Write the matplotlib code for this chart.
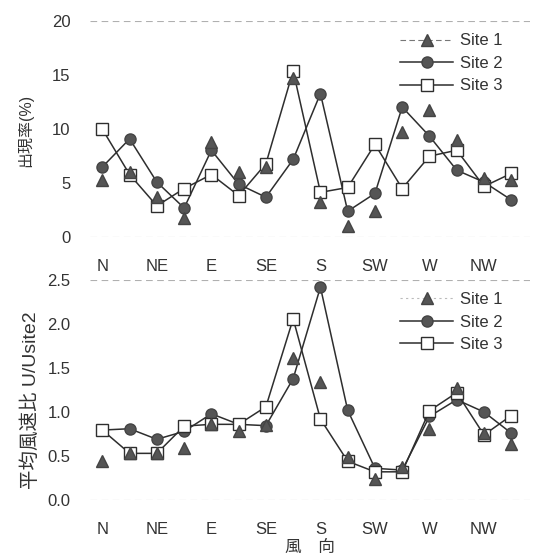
import matplotlib
matplotlib.use("Agg")
import matplotlib.pyplot as plt
from matplotlib.lines import Line2D

plt.rcParams['font.family'] = ['Liberation Sans', 'Noto Sans CJK JP', 'DejaVu Sans']

directions = ["N", "NNE", "NE", "ENE", "E", "ESE", "SE", "SSE",
              "S", "SSW", "SW", "WSW", "W", "WNW", "NW", "NNW"]
tick_labels = ["N", "NE", "E", "SE", "S", "SW", "W", "NW"]

# 出現率 (%)
freq_site1 = [5.3, 6.0, 3.75, 1.75, 8.8, 6.0, 6.5, 14.7, 3.3, 1.0, 2.45, 9.75, 11.8, 9.0, 5.45, 5.3]
freq_site2 = [6.5, 9.1, 5.1, 2.7, 8.05, 4.9, 3.7, 7.2, 13.3, 2.4, 4.05, 12.05, 9.35, 6.2, 5.1, 3.45]
freq_site3 = [10.0, 5.8, 2.9, 4.5, 5.8, 3.85, 6.8, 15.4, 4.15, 4.6, 8.6, 4.5, 7.5, 8.05, 4.7, 5.9]

# 平均風速比 U/Usite2
ratio_site1 = [0.44, 0.53, 0.53, 0.59, 0.86, 0.78, 0.85, 1.62, 1.34, 0.49, 0.235, 0.38, 0.81, 1.27, 0.76, 0.64]
ratio_site2 = [0.795, 0.81, 0.69, 0.78, 0.98, 0.86, 0.845, 1.38, 2.42, 1.02, 0.36, 0.34, 0.95, 1.14, 1.0, 0.76]
ratio_site3 = [0.795, 0.53, 0.53, 0.84, 0.86, 0.86, 1.06, 2.06, 0.92, 0.44, 0.32, 0.32, 1.015, 1.22, 0.74, 0.96]

x = list(range(len(directions)))
tick_pos = x[::2]

fig = plt.figure(figsize=(5.33, 5.58), dpi=100)
ax1 = fig.add_axes([0.169, 0.575, 0.826, 0.387])
ax2 = fig.add_axes([0.169, 0.104, 0.826, 0.394])

line_c = '#2e2e2e'
fill_c = '#555555'
text_c = '#333333'

def draw(ax, s1, s2, s3, ylim, yticks, yfmt, ylabel, ylabel_size, label_xy, legend_dashed):
    ax.plot(x, s2, '-', color=line_c, lw=1.1, marker='o', ms=8,
            mfc=fill_c, mec='#444444', zorder=3)
    ax.plot(x, s3, '-', color=line_c, lw=1.1, marker='s', ms=8,
            mfc='white', mec=line_c, mew=1.0, zorder=4)
    ax.plot(x, s1, linestyle='none', marker='^', ms=8.5,
            mfc=fill_c, mec='#444444', zorder=5)
    ax.set_xlim(-0.45, 15.7)
    ax.set_ylim(*ylim)
    for yy in ylim:
        ax.axhline(yy, color='#b0b0b0', lw=0.8, ls=(0, (6, 4)), zorder=1)
    for sp in ax.spines.values():
        sp.set_visible(False)
    ax.set_xticks(tick_pos)
    ax.set_xticklabels(tick_labels, fontsize=12, color=text_c)
    ax.set_yticks(yticks)
    ax.set_yticklabels([yfmt.format(v) for v in yticks], fontsize=12, color=text_c)
    ax.tick_params(axis='y', length=0, pad=14)
    ax.tick_params(axis='x', length=0, pad=16)
    ax.set_ylabel(ylabel, fontsize=ylabel_size, color=text_c)
    ax.yaxis.set_label_coords(*label_xy)
    if legend_dashed:
        h1 = Line2D([], [], color='#777777', lw=0.8, ls=(0, (5, 3)), marker='^',
                    ms=8.5, mfc=fill_c, mec='#444444')
    else:
        h1 = Line2D([], [], color='#bbbbbb', lw=0.8, ls=(0, (2, 3)), marker='^',
                    ms=8.5, mfc=fill_c, mec='#444444')
    h2 = Line2D([], [], color=line_c, lw=1.1, marker='o', ms=8, mfc=fill_c, mec='#444444')
    h3 = Line2D([], [], color=line_c, lw=1.1, marker='s', ms=8, mfc='white', mec=line_c)
    leg = ax.legend([h1, h2, h3], ['Site 1', 'Site 2', 'Site 3'], loc='upper right',
                    bbox_to_anchor=(0.96, 0.99), fontsize=12, frameon=False,
                    handlelength=3.2, handletextpad=0.4, labelspacing=0.45,
                    borderaxespad=0.2)
    for t in leg.get_texts():
        t.set_color(text_c)

draw(ax1, freq_site1, freq_site2, freq_site3, (0, 20), [0, 5, 10, 15, 20], "{:.0f}",
     "出現率(%)", 11.5, (-0.13, 0.495), True)
draw(ax2, ratio_site1, ratio_site2, ratio_site3, (0, 2.5), [0.0, 0.5, 1.0, 1.5, 2.0, 2.5],
     "{:.1f}", "平均風速比 U/Usite2", 14, (-0.113, 0.455), False)
fig.text(310 / 533, 1 - 547 / 558, "風　向", fontsize=12, color=text_c,
         ha='center', va='center')

fig.savefig("out.png", dpi=100)
